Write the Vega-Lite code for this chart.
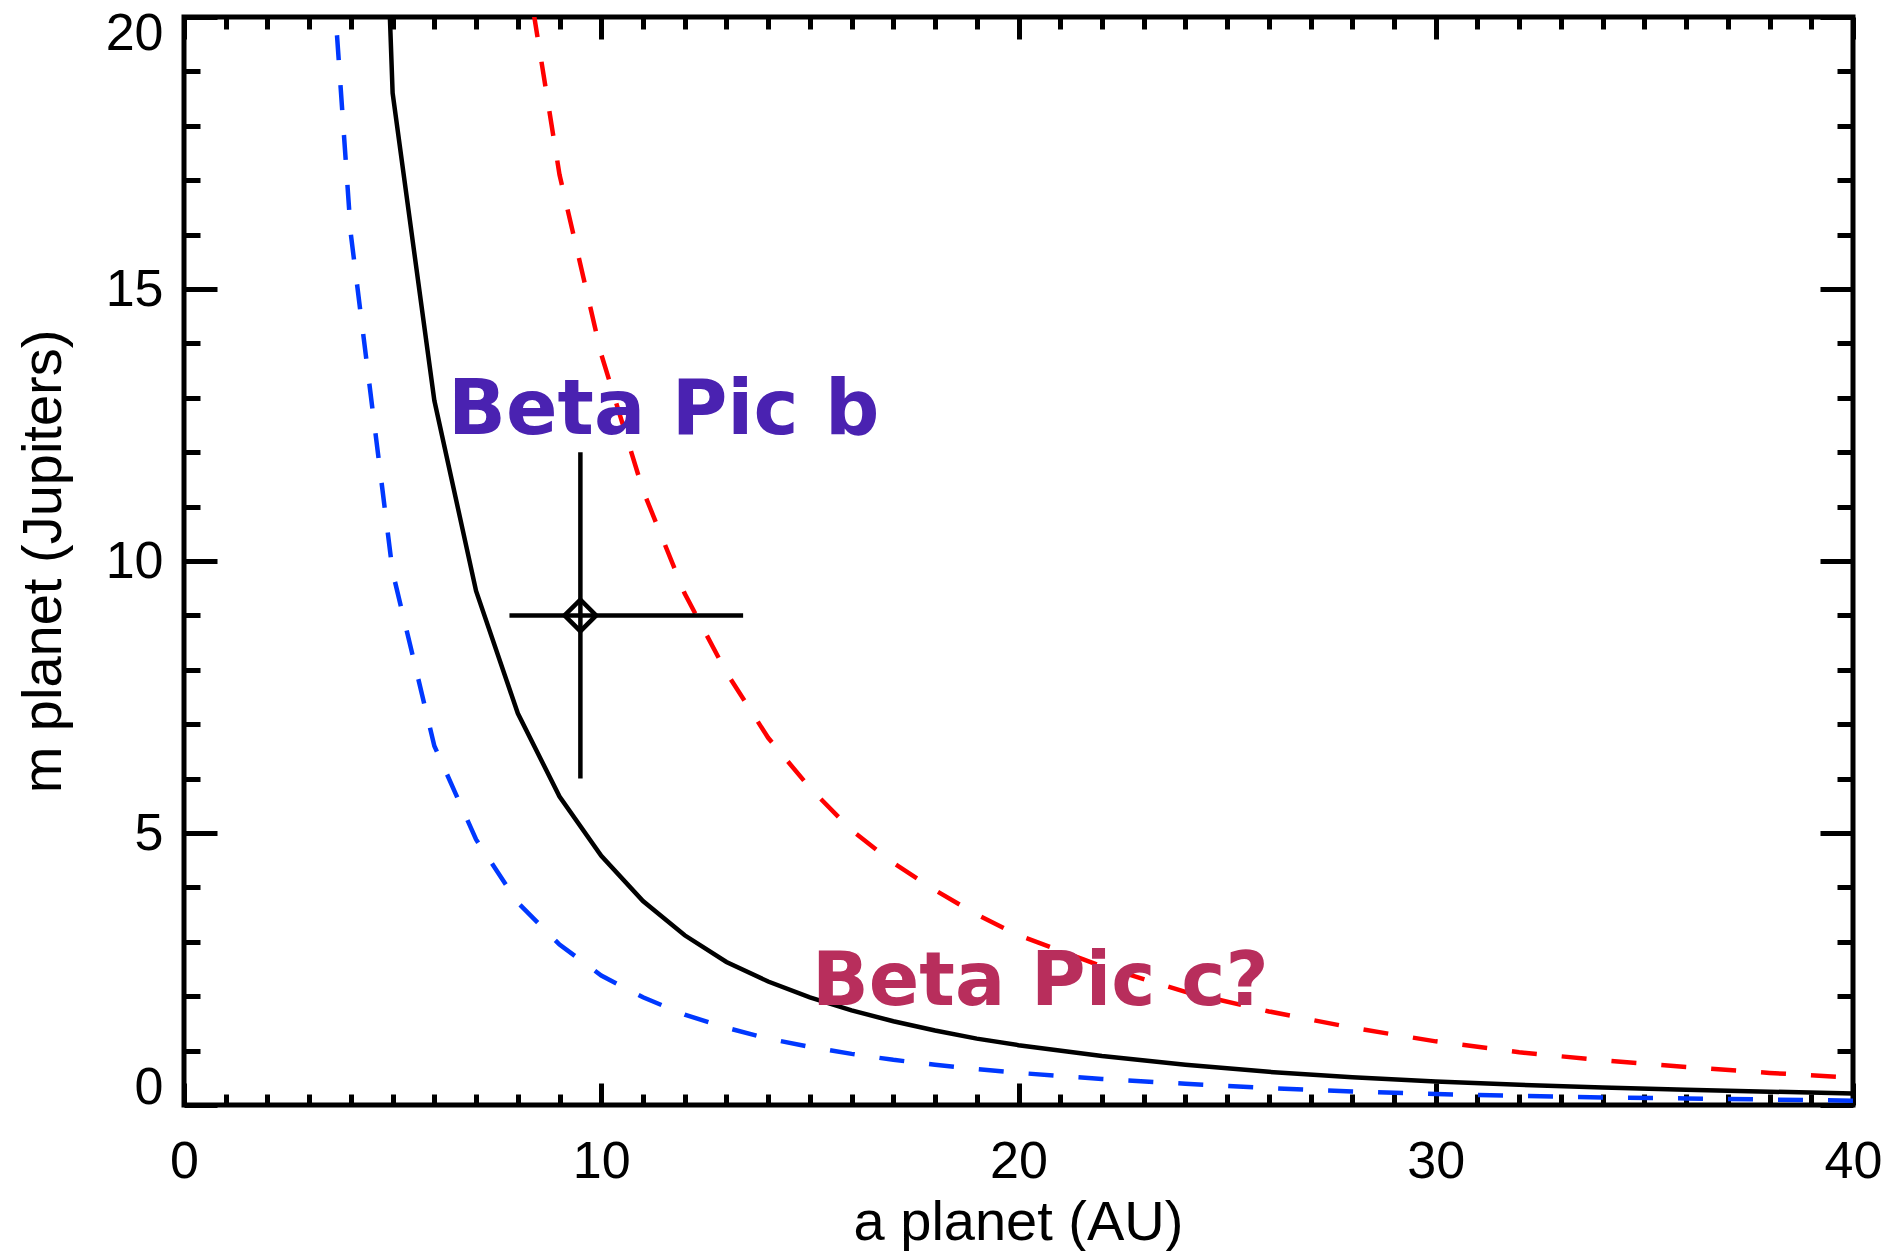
{
  "$schema": "https://vega.github.io/schema/vega-lite/v6.json",
  "autosize": {"type": "none"},
  "width": 1669,
  "height": 1088,
  "padding": {"left": 184, "top": 17, "right": 50, "bottom": 146},
  "background": "white",
  "config": {
    "view": {"stroke": "black", "strokeWidth": 5},
    "axis": {"grid": false, "domain": false, "labelFont": "Liberation Sans", "titleFont": "Liberation Sans", "labelColor": "black", "titleColor": "black", "tickColor": "black", "titleFontWeight": "normal"}
  },
  "datasets": {
    "black": [
      {"a": 4, "m": 40}, {"a": 5, "m": 18.6}, {"a": 6, "m": 12.95}, {"a": 7, "m": 9.45}, {"a": 8, "m": 7.2},
      {"a": 9, "m": 5.67}, {"a": 10, "m": 4.58}, {"a": 11, "m": 3.75}, {"a": 12, "m": 3.12}, {"a": 13, "m": 2.63},
      {"a": 14, "m": 2.27}, {"a": 15, "m": 1.98}, {"a": 16, "m": 1.74}, {"a": 17, "m": 1.54}, {"a": 18, "m": 1.37},
      {"a": 19, "m": 1.22}, {"a": 20, "m": 1.1}, {"a": 22, "m": 0.9}, {"a": 24, "m": 0.74}, {"a": 26, "m": 0.61},
      {"a": 28, "m": 0.51}, {"a": 30, "m": 0.43}, {"a": 32, "m": 0.37}, {"a": 34, "m": 0.32}, {"a": 36, "m": 0.28},
      {"a": 38, "m": 0.245}, {"a": 40, "m": 0.21}
    ],
    "blue": [
      {"a": 3, "m": 27}, {"a": 4, "m": 16}, {"a": 5, "m": 9.8}, {"a": 6, "m": 6.6}, {"a": 7, "m": 4.88},
      {"a": 8, "m": 3.72}, {"a": 9, "m": 2.95}, {"a": 10, "m": 2.38}, {"a": 11, "m": 1.98}, {"a": 12, "m": 1.66},
      {"a": 13, "m": 1.42}, {"a": 14, "m": 1.22}, {"a": 15, "m": 1.07}, {"a": 16, "m": 0.94}, {"a": 17, "m": 0.83},
      {"a": 18, "m": 0.74}, {"a": 19, "m": 0.66}, {"a": 20, "m": 0.59}, {"a": 22, "m": 0.48}, {"a": 24, "m": 0.39},
      {"a": 26, "m": 0.31}, {"a": 28, "m": 0.25}, {"a": 30, "m": 0.2}, {"a": 32, "m": 0.17}, {"a": 34, "m": 0.14},
      {"a": 36, "m": 0.12}, {"a": 38, "m": 0.1}, {"a": 40, "m": 0.08}
    ],
    "red": [
      {"a": 8, "m": 21.9}, {"a": 9, "m": 17.1}, {"a": 10, "m": 13.8}, {"a": 11, "m": 11.3}, {"a": 12, "m": 9.4},
      {"a": 13, "m": 7.95}, {"a": 14, "m": 6.75}, {"a": 15, "m": 5.83}, {"a": 16, "m": 5.05}, {"a": 17, "m": 4.45},
      {"a": 18, "m": 3.95}, {"a": 19, "m": 3.5}, {"a": 20, "m": 3.12}, {"a": 22, "m": 2.55}, {"a": 24, "m": 2.08},
      {"a": 26, "m": 1.72}, {"a": 28, "m": 1.42}, {"a": 30, "m": 1.17}, {"a": 32, "m": 0.97}, {"a": 34, "m": 0.82},
      {"a": 36, "m": 0.7}, {"a": 38, "m": 0.59}, {"a": 40, "m": 0.5}
    ],
    "planet": [
      {"a": 9.5, "m": 9.0, "a_lo": 7.8, "a_hi": 13.4, "m_lo": 6.0, "m_hi": 12.0}
    ],
    "labels": [
      {"a": 6.33, "m": 12.33, "label": "Beta Pic b", "color": "b", "size": 76},
      {"a": 15.05, "m": 1.84, "label": "Beta Pic c?", "color": "c", "size": 74.5}
    ]
  },
  "resolve": {"axis": {"x": "independent", "y": "independent"}},
  "layer": [
    {
      "data": {"name": "blue"},
      "mark": {"type": "line", "clip": true, "color": "#0038ff", "strokeWidth": 4.5, "strokeDash": [25, 25]},
      "encoding": {
        "x": {"field": "a", "type": "quantitative", "scale": {"domain": [0, 40], "nice": false, "zero": false},
          "axis": {"orient": "bottom", "values": [0, 10, 20, 30, 40], "ticks": false, "labelPadding": 31, "labelFontSize": 52, "labelFlush": false, "labelOverlap": false,
            "title": "a planet (AU)", "titleFontSize": 56, "titleX": 834, "titleY": 134, "titleBaseline": "alphabetic", "titleAlign": "center", "titleAnchor": null}},
        "y": {"field": "m", "type": "quantitative", "scale": {"domain": [0, 20], "nice": false, "zero": false},
          "axis": {"orient": "left", "values": [0, 5, 10, 15, 20], "ticks": false, "labelPadding": 21, "labelFontSize": 52, "labelFlush": true, "labelFlushOffset": 9, "labelOverlap": false,
            "title": "m planet (Jupiters)", "titleFontSize": 56, "titleX": -124, "titleY": 544, "titleAngle": -90, "titleBaseline": "alphabetic", "titleAlign": "center", "titleAnchor": null}}
      }
    },
    {
      "data": {"name": "red"},
      "mark": {"type": "line", "clip": true, "color": "#ff0000", "strokeWidth": 4.5, "strokeDash": [25, 25]},
      "encoding": {
        "x": {"field": "a", "type": "quantitative", "scale": {"domain": [0, 40], "nice": false, "zero": false},
          "axis": {"orient": "bottom", "values": [0, 10, 20, 30, 40], "labels": false, "ticks": true, "tickSize": -22, "tickWidth": 5, "title": null}},
        "y": {"field": "m", "type": "quantitative", "scale": {"domain": [0, 20], "nice": false, "zero": false},
          "axis": {"orient": "left", "values": [0, 5, 10, 15, 20], "labels": false, "ticks": true, "tickSize": -33, "tickWidth": 5, "title": null}}
      }
    },
    {
      "data": {"name": "black"},
      "mark": {"type": "line", "clip": true, "color": "black", "strokeWidth": 4.5},
      "encoding": {
        "x": {"field": "a", "type": "quantitative", "scale": {"domain": [0, 40], "nice": false, "zero": false},
          "axis": {"orient": "bottom", "values": [1,2,3,4,5,6,7,8,9,11,12,13,14,15,16,17,18,19,21,22,23,24,25,26,27,28,29,31,32,33,34,35,36,37,38,39], "labels": false, "ticks": true, "tickSize": -11, "tickWidth": 5, "title": null}},
        "y": {"field": "m", "type": "quantitative", "scale": {"domain": [0, 20], "nice": false, "zero": false},
          "axis": {"orient": "left", "values": [1,2,3,4,6,7,8,9,11,12,13,14,16,17,18,19], "labels": false, "ticks": true, "tickSize": -16, "tickWidth": 5, "title": null}}
      }
    },
    {
      "data": {"name": "planet"},
      "mark": {"type": "rule", "color": "black", "strokeWidth": 4.5},
      "encoding": {
        "x": {"field": "a", "type": "quantitative", "scale": {"domain": [0, 40], "nice": false, "zero": false},
          "axis": {"orient": "top", "values": [0, 10, 20, 30, 40], "labels": false, "ticks": true, "tickSize": -22, "tickWidth": 5, "title": null}},
        "y": {"field": "m_lo", "type": "quantitative", "scale": {"domain": [0, 20], "nice": false, "zero": false},
          "axis": {"orient": "right", "values": [0, 5, 10, 15, 20], "labels": false, "ticks": true, "tickSize": -33, "tickWidth": 5, "title": null}},
        "y2": {"field": "m_hi"}
      }
    },
    {
      "data": {"name": "planet"},
      "mark": {"type": "rule", "color": "black", "strokeWidth": 4.5},
      "encoding": {
        "x": {"field": "a_lo", "type": "quantitative", "scale": {"domain": [0, 40], "nice": false, "zero": false},
          "axis": {"orient": "top", "values": [1,2,3,4,5,6,7,8,9,11,12,13,14,15,16,17,18,19,21,22,23,24,25,26,27,28,29,31,32,33,34,35,36,37,38,39], "labels": false, "ticks": true, "tickSize": -12, "tickWidth": 5, "title": null}},
        "x2": {"field": "a_hi"},
        "y": {"field": "m", "type": "quantitative", "scale": {"domain": [0, 20], "nice": false, "zero": false},
          "axis": {"orient": "right", "values": [1,2,3,4,6,7,8,9,11,12,13,14,16,17,18,19], "labels": false, "ticks": true, "tickSize": -16, "tickWidth": 5, "title": null}}
      }
    },
    {
      "data": {"name": "planet"},
      "mark": {"type": "point", "shape": "diamond", "filled": false, "stroke": "black", "strokeWidth": 4.5, "size": 1000, "opacity": 1},
      "encoding": {
        "x": {"field": "a", "type": "quantitative", "axis": null},
        "y": {"field": "m", "type": "quantitative", "axis": null}
      }
    },
    {
      "data": {"name": "labels"},
      "mark": {"type": "text", "font": "DejaVu Sans", "fontWeight": "bold", "align": "left", "baseline": "alphabetic"},
      "encoding": {
        "x": {"field": "a", "type": "quantitative", "axis": null},
        "y": {"field": "m", "type": "quantitative", "axis": null},
        "text": {"field": "label"},
        "size": {"field": "size", "type": "quantitative", "scale": null, "legend": null},
        "color": {"field": "color", "type": "nominal", "scale": {"domain": ["b", "c"], "range": ["#4a22b1", "#b82e5c"]}, "legend": null}
      }
    }
  ]
}
